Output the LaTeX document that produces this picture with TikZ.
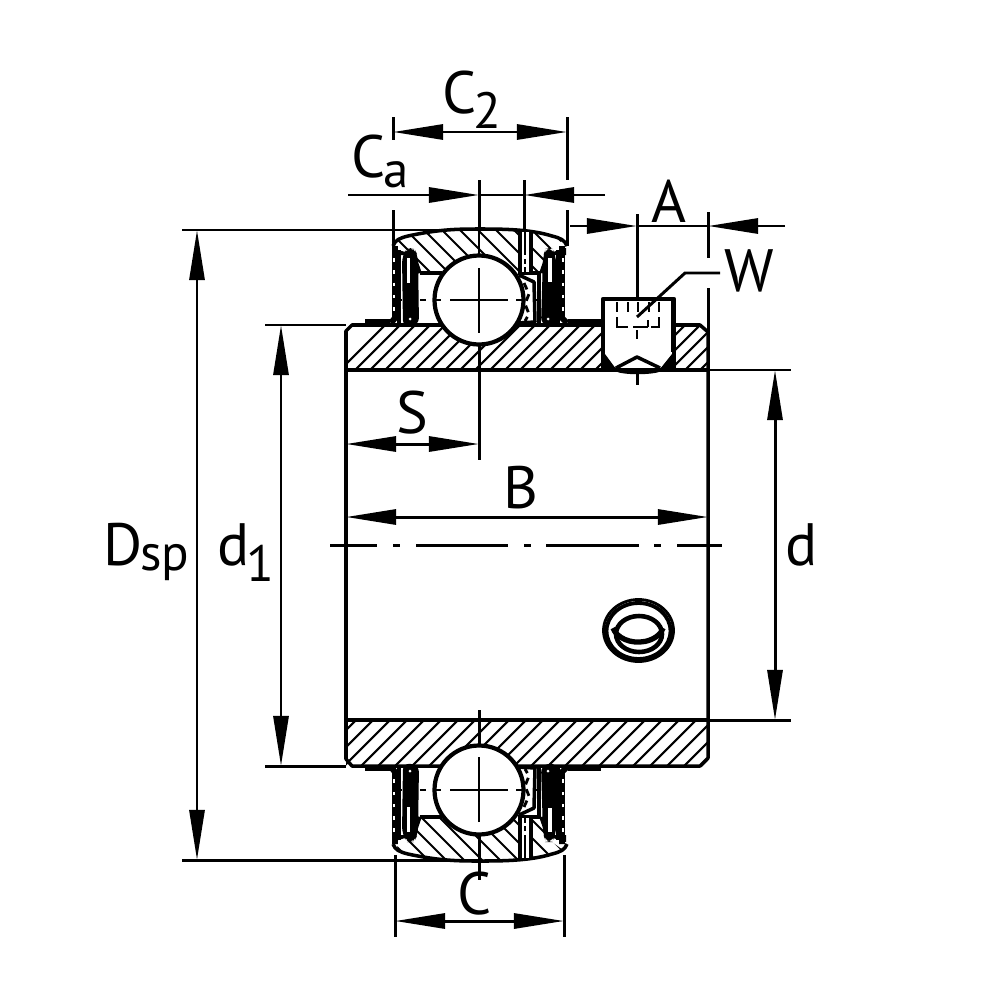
\documentclass[tikz,border=0pt]{standalone}
\usepackage{fontspec}
\setmainfont{PT Sans}
\usetikzlibrary{arrows.meta}
\tikzset{
  x=0.01cm,y=-0.01cm,
  dim/.style={line width=0.85pt,black},
  tipd/.style={-{Triangle[length=0.5cm,width=0.15cm]}},
  tipb/.style={{Triangle[length=0.5cm,width=0.15cm]}-{Triangle[length=0.5cm,width=0.15cm]}},
  main/.style={line width=1pt,black,line join=round},
  heavy/.style={line width=1.3pt,black,line join=round},
  hatchl/.style={line width=0.6pt,black},
  lab/.style={font=\fontsize{17}{20}\selectfont,inner sep=0pt},
  sub/.style={font=\fontsize{14.5}{17}\selectfont,inner sep=0pt},
  cen/.style={line width=0.75pt,black},
}
\newcommand{\bearingpart}[1]{%
  % outer ring hatch
  \begin{scope}
    \clip (397,240) .. controls (430,231) and (460,229) .. (480,229) .. controls (500,229) and (530,231) .. (563,240)
       -- (549,250) -- (538,273) -- (420,273) -- (412,250) -- (398,250) -- cycle;
    \foreach \x in {300,318,...,680} \draw[hatchl] (\x,250) +(-100,{-#1*100}) -- +(100,{#1*100});
  \end{scope}
  % outer ring outline
  \draw[main] (393,246) .. controls (395,240) and (400,238) .. (408,236) .. controls (440,229) and (460,229) .. (480,229) .. controls (500,229) and (530,229) .. (552,236) .. controls (560,238) and (565,240) .. (567,246);
  \draw[main] (420,273) -- (442,273) (518,273) -- (541,273);
  \draw[main] (412,250) -- (420,273) (549,250) -- (541,273);
  % lubrication hole
  \fill[white] (520,232) rectangle (531,272);
  \draw[main] (520,232) -- (520,273) (531,232) -- (531,273);
  \draw[cen] (525,232) -- (525,255) (525,259) -- (525,264) (525,267) -- (525,273);
  % left seal
  \draw[line width=1.7pt] (395,246) -- (395,318) -- (391,323);
  \draw[white,line width=0.6pt,dash pattern=on 1pt off 2.5pt] (394,258) -- (394,318);
  \draw[main] (399,250) -- (399,323);
  \fill[rounded corners=2pt] (402,256) -- (407,248) -- (414,248) -- (418,256) -- (419,325) -- (403,327) -- cycle;
  \fill[white] (407,258) rectangle (410,283);
  \fill[white] (410,319) circle (1.5);
  \fill (392,248) -- (405,252) -- (405,255) -- (392,255) -- cycle;
  % right seal
  \draw[line width=1.7pt] (562,246) -- (562,318) -- (567,323);
  \draw[white,line width=0.6pt,dash pattern=on 1pt off 2.5pt] (563,258) -- (563,318);
  \draw[main] (558,250) -- (558,323);
  \fill[rounded corners=2pt] (556,256) -- (552,248) -- (546,248) -- (543,256) -- (541,325) -- (557,327) -- cycle;
  \fill[white] (548,258) rectangle (552,282);
  \fill[white] (548,319) circle (1.5);
  \fill (566,248) -- (553,252) -- (553,255) -- (566,255) -- cycle;
  \draw[main] (539,275) -- (539,323);
  % flanges
  \draw[line width=1.6pt] (365,322) -- (390,322) (568,322) -- (601,322);
  % cage
  \fill[white] (520,276) -- (534,282) -- (535,320) -- (520,322) -- cycle;
  \draw[main] (519,275) -- (534,282) -- (535,322) -- (518,323);
  \draw[line width=0.8pt,dash pattern=on 2pt off 1.5pt] (524,283) -- (529,294) -- (525,304) -- (529,314) -- (525,321);
  % ball
  \draw[line width=1.2pt,fill=white] (479,300) circle (44.5);
  % centre marks
  \draw[cen] (450,300) -- (508,300) (435,300) -- (441,300) (516,300) -- (523,300);
  \draw[cen] (479,268) -- (479,333) (479,229) -- (479,256);
  \draw[cen] (420,300) -- (426,300) (399,300) -- (402,300) (536,300) -- (541,300);
}
\begin{document}
\begin{tikzpicture}
\useasboundingbox (0,0) rectangle (1000,1000);
\fill[white] (0,0) rectangle (1000,1000);
% inner ring hatching
\begin{scope}
  \clip (346,325) rectangle (603,370);
  \foreach \x in {340,355,...,720} \draw[hatchl] (\x,370) -- +(60,-60);
\end{scope}
\begin{scope}
  \clip (675,325) rectangle (708,370);
  \foreach \x in {640,655,...,720} \draw[hatchl] (\x,370) -- +(60,-60);
\end{scope}
\begin{scope}
  \clip (346,720) rectangle (708,766);
  \foreach \x in {310,327,...,720} \draw[hatchl] (\x,766) -- +(60,-60);
\end{scope}
% sleeve outline
\draw[main] (603,325) -- (352,325) -- (346,331) -- (346,759) -- (352,766) -- (700,766) -- (708,758) -- (708,332) -- (700,325) -- (675,325);
\draw[heavy] (346,720) -- (708,720);
% upper and lower bearing sections
\bearingpart{1}
\begin{scope}[shift={(0,1090)},yscale=-1]
  \bearingpart{-1}
\end{scope}
% set screw
\fill[white] (605,301) rectangle (673,368);
\draw[heavy] (346,370) -- (708,370);
\draw[heavy] (603,370) -- (603,299) -- (674,299) -- (674,370);
\draw[line width=0.6pt] (672,301) -- (672,352);
\fill (602,354) -- (605,354) -- (616,369) -- (603,369) -- cycle;
\fill (675,354) -- (672,354) -- (660,369) -- (675,369) -- cycle;
\draw[main] (612,368) -- (620,371) .. controls (630,373) and (645,373) .. (656,371) -- (666,368);
\draw[main] (616,368) -- (637,357) -- (660,368);
\draw[line width=0.8pt] (617,302) -- (617,312) (628,302) -- (628,312) (638,302) -- (638,312) (649,302) -- (649,312) (659,302) -- (659,312);
\draw[line width=0.8pt] (617,317) -- (617,327) -- (628,327) (633,327) -- (648,327) (648,320) -- (648,327) (659,317) -- (659,327) -- (651,327);
\draw[cen] (637,330) -- (637,339);
% set screw centre line and leader
\draw[dim] (637,214) -- (637,299);
\draw[dim] (637,372) -- (637,385);
\draw[dim] (637,317) -- (685,273) -- (720,273);
% extension lines
\draw[dim] (393,117) -- (393,140) (393,210) -- (393,246);
\draw[dim] (567,117) -- (567,180) (567,210) -- (567,246);
\draw[dim] (479,180) -- (479,229) (479,344) -- (479,460);
\draw[dim] (524,180) -- (524,232);
\draw[dim] (708,212) -- (708,258) (708,288) -- (708,332);
\draw[dim] (182,230) -- (479,230) (182,860) -- (479,860);
\draw[dim] (265,325) -- (346,325) (265,766) -- (346,766);
\draw[dim] (708,370) -- (791,370) (708,720) -- (791,720);
\draw[dim] (395,855) -- (395,937) (564,855) -- (564,937);
\draw[dim] (479,710) -- (479,745) (479,836) -- (479,880);
% centre line
\draw[line width=0.85pt] (330,545) -- (377,545) (393,545) -- (400,545) (416,545) -- (508,545) (524,545) -- (531,545) (546,545) -- (639,545) (654,545) -- (661,545) (677,545) -- (722,545);
% dimension lines
\draw[dim,tipb] (393,132) -- (567,132);
\draw[dim,tipd] (348,195) -- (479,195);
\draw[dim,tipd] (605,195) -- (524,195);
\draw[dim] (479,195) -- (524,195);
\draw[dim,tipd] (570,226) -- (637,226);
\draw[dim,tipd] (785,226) -- (708,226);
\draw[dim] (637,226) -- (708,226);
\draw[dim,tipb] (197,230) -- (197,860);
\draw[dim,tipb] (281,325) -- (281,766);
\draw[dim,tipb] (775,370) -- (775,720);
\draw[dim,tipb] (346,444) -- (479,444);
\draw[dim,tipb] (346,517) -- (708,517);
\draw[dim,tipb] (395,921) -- (564,921);
% small hole
\draw[line width=0.8pt] (638.5,630.5) ellipse (35 and 31);
\draw[line width=1.1pt] (638.5,631) ellipse (32 and 28);
\draw[line width=1.3pt] (639,634) ellipse (23 and 18);
\draw[line width=1.5pt] (613,628) arc (165:15:26 and 19);
% labels
\node[lab] (lC2) at (460,93) {C};
\node[sub] (lC2s) at (487,110) {2};
\node[lab] (lCa) at (369,157) {C};
\node[sub] (lCas) at (396,175) {a};
\node[lab] (lA) at (669,201) {A};
\node[lab] (lW) at (749,271) {W};
\node[lab] (lS) at (412,413) {S};
\node[lab] (lB) at (521,488) {B};
\node[lab] (lD) at (123,545) {D};
\node[sub] (lDs) at (165,563) {sp};
\node[lab] (ld1) at (234,545) {d};
\node[sub] (ld1s) at (260,563) {1};
\node[lab] (ld) at (802,545) {d};
\node[lab] (lC) at (475,894) {C};
\end{tikzpicture}
\end{document}
